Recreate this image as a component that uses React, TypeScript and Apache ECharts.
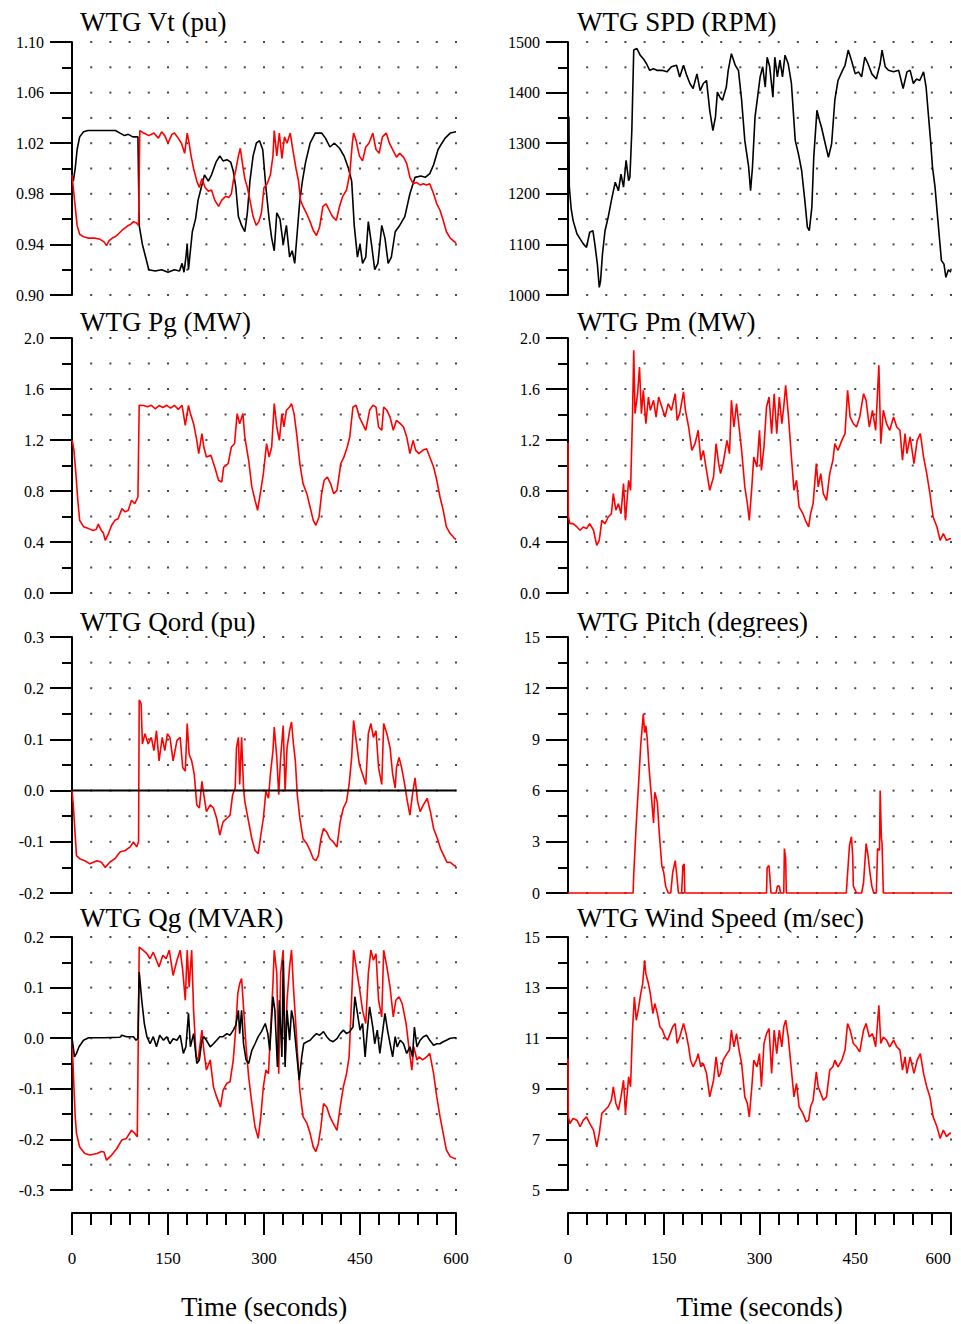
import React, { useEffect, useRef } from "react";
import * as echarts from "echarts";

// ---- recorded traces: [time (s), value] ----
const vtBlack: number[][] = [
  [0, 0.995], [2, 0.99], [5, 1.0], [8, 1.015], [12, 1.025], [18, 1.029], [25, 1.03], [40, 1.03], [55, 1.03], [68, 1.03],
  [75, 1.028], [82, 1.026], [88, 1.027], [95, 1.025], [103, 1.025], [105, 0.955], [110, 0.94], [115, 0.93], [120, 0.92],
  [130, 0.919], [140, 0.92], [150, 0.918], [160, 0.92], [168, 0.919], [172, 0.925], [175, 0.918], [178, 0.93], [180, 0.94],
  [182, 0.92], [185, 0.935], [188, 0.95], [193, 0.96], [197, 0.975], [202, 0.985], [207, 0.995], [213, 0.99], [218, 0.995],
  [225, 1.005], [231, 1.01], [236, 1.006], [242, 1.007], [248, 1.005], [252, 0.998], [256, 0.985], [260, 0.962], [265, 0.955],
  [270, 0.95], [274, 0.965], [278, 0.99], [283, 1.01], [288, 1.02], [293, 1.022], [298, 1.015], [303, 0.985], [308, 0.96],
  [312, 0.945], [316, 0.935], [320, 0.965], [325, 0.96], [330, 0.94], [335, 0.955], [340, 0.93], [344, 0.935], [348, 0.925],
  [352, 0.95], [356, 0.975], [360, 0.99], [365, 1.005], [372, 1.02], [380, 1.028], [390, 1.028], [396, 1.024], [403, 1.017],
  [410, 1.02], [418, 1.016], [425, 1.01], [432, 1.0], [437, 0.99], [441, 0.955], [446, 0.93], [450, 0.94], [454, 0.925],
  [459, 0.93], [463, 0.958], [468, 0.94], [473, 0.92], [478, 0.925], [484, 0.955], [489, 0.945], [494, 0.925], [499, 0.93],
  [505, 0.95], [512, 0.955], [520, 0.962], [528, 0.98], [536, 0.993], [545, 0.994], [552, 0.993], [559, 0.996], [565, 1.003],
  [572, 1.015], [578, 1.02], [583, 1.024], [591, 1.028], [600, 1.029],
];

const vtRed: number[][] = [
  [0, 0.995], [2, 0.985], [5, 0.97], [8, 0.955], [12, 0.948], [18, 0.946], [25, 0.945], [35, 0.945], [44, 0.944], [50, 0.942],
  [54, 0.939], [58, 0.943], [63, 0.945], [67, 0.946], [72, 0.948], [78, 0.951], [83, 0.953], [88, 0.955], [92, 0.956],
  [96, 0.958], [101, 0.957], [104, 0.955], [106, 1.03], [112, 1.028], [120, 1.026], [128, 1.028], [135, 1.024], [140, 1.029],
  [145, 1.026], [150, 1.02], [156, 1.027], [160, 1.028], [166, 1.024], [171, 1.02], [176, 1.012], [180, 1.028], [183, 1.02],
  [186, 1.01], [190, 1.0], [195, 0.99], [199, 0.985], [203, 0.992], [208, 0.985], [213, 0.982], [218, 0.983], [223, 0.975],
  [229, 0.97], [234, 0.975], [240, 0.978], [245, 0.977], [249, 0.98], [252, 0.99], [256, 0.999], [260, 1.01], [263, 1.016],
  [266, 1.005], [270, 0.992], [274, 0.985], [278, 0.975], [283, 0.962], [288, 0.955], [292, 0.958], [296, 0.965], [300, 0.985],
  [305, 0.988], [310, 0.995], [314, 1.01], [316, 1.03], [320, 1.01], [324, 1.028], [328, 1.008], [332, 1.025], [336, 1.02],
  [341, 1.028], [345, 1.015], [350, 1.0], [354, 0.99], [357, 0.975], [361, 0.97], [366, 0.965], [372, 0.958], [377, 0.951],
  [382, 0.947], [387, 0.954], [392, 0.97], [397, 0.972], [402, 0.967], [407, 0.962], [413, 0.959], [418, 0.97], [423, 0.978],
  [429, 0.983], [434, 0.996], [438, 1.02], [440, 1.028], [444, 1.022], [449, 1.01], [454, 1.006], [459, 1.017], [464, 1.02],
  [470, 1.028], [475, 1.015], [480, 1.012], [485, 1.025], [491, 1.028], [496, 1.02], [502, 1.014], [507, 1.009], [512, 1.012],
  [518, 1.009], [523, 1.004], [528, 0.993], [533, 0.988], [538, 0.989], [544, 0.987], [549, 0.988], [554, 0.987], [559, 0.988],
  [565, 0.98], [570, 0.972], [575, 0.967], [580, 0.959], [585, 0.95], [591, 0.945], [598, 0.942], [600, 0.941],
];

const spd: number[][] = [
  [0, 1355], [1.5, 1350], [2, 1215], [5, 1170], [8, 1147], [14, 1121], [19, 1111], [24, 1101], [29, 1094], [34, 1124],
  [39, 1127], [42, 1101], [46, 1061], [49, 1015], [51, 1028], [54, 1081], [58, 1127], [63, 1154], [68, 1187], [74, 1223],
  [79, 1206], [83, 1239], [87, 1213], [91, 1266], [95, 1226], [97, 1233], [100, 1325], [103, 1484], [108, 1487], [113, 1474],
  [118, 1467], [123, 1457], [128, 1444], [134, 1447], [139, 1444], [147, 1444], [155, 1441], [162, 1451], [170, 1454],
  [175, 1431], [181, 1454], [186, 1434], [191, 1418], [196, 1408], [202, 1437], [207, 1404], [212, 1418], [217, 1424],
  [222, 1365], [227, 1325], [231, 1352], [234, 1401], [238, 1391], [242, 1385], [248, 1411], [251, 1444], [256, 1477],
  [262, 1454], [267, 1444], [272, 1385], [277, 1305], [283, 1253], [286, 1206], [289, 1253], [293, 1352], [297, 1391],
  [301, 1431], [305, 1451], [309, 1411], [312, 1470], [316, 1451], [321, 1391], [324, 1470], [328, 1431], [332, 1464],
  [336, 1431], [340, 1474], [345, 1457], [350, 1418], [356, 1305], [361, 1279], [366, 1246], [371, 1187], [375, 1134],
  [378, 1127], [382, 1173], [385, 1272], [390, 1365], [394, 1345], [397, 1332], [403, 1299], [408, 1272], [413, 1299],
  [418, 1385], [423, 1424], [429, 1441], [434, 1454], [439, 1484], [444, 1464], [450, 1437], [455, 1441], [460, 1431],
  [465, 1470], [470, 1457], [476, 1437], [483, 1427], [489, 1457], [492, 1484], [497, 1451], [502, 1444], [510, 1441],
  [518, 1444], [525, 1408], [531, 1441], [536, 1444], [541, 1418], [546, 1427], [551, 1424], [557, 1441], [561, 1411],
  [564, 1365], [568, 1305], [571, 1253], [575, 1213], [579, 1154], [582, 1111], [585, 1068], [589, 1061], [592, 1035],
  [596, 1050], [600, 1045],
];

const pg: number[][] = [
  [0, 1.2], [1, 1.18], [3, 1.12], [6, 0.94], [9, 0.73], [12, 0.57], [18, 0.52], [26, 0.505], [33, 0.49], [38, 0.5],
  [41, 0.54], [46, 0.49], [49, 0.47], [52, 0.413], [57, 0.466], [62, 0.531], [67, 0.57], [72, 0.583], [78, 0.662],
  [83, 0.636], [88, 0.649], [93, 0.727], [98, 0.7], [103, 0.753], [105, 1.472], [112, 1.47], [118, 1.46], [124, 1.472],
  [130, 1.445], [136, 1.47], [142, 1.455], [148, 1.472], [154, 1.45], [160, 1.472], [166, 1.44], [172, 1.472], [177, 1.315],
  [182, 1.472], [185, 1.407], [190, 1.328], [195, 1.197], [198, 1.093], [203, 1.25], [206, 1.145], [210, 1.067], [217, 1.08],
  [223, 0.988], [229, 0.884], [234, 0.871], [237, 0.988], [244, 1.015], [249, 1.145], [254, 1.171], [258, 1.407], [262, 1.328],
  [267, 1.407], [270, 1.224], [276, 1.041], [281, 0.832], [286, 0.727], [290, 0.649], [295, 0.805], [299, 0.936], [304, 1.171],
  [308, 1.067], [312, 1.145], [316, 1.485], [320, 1.302], [324, 1.197], [328, 1.407], [331, 1.302], [335, 1.433], [340, 1.459],
  [343, 1.485], [347, 1.407], [351, 1.25], [356, 1.015], [361, 0.858], [367, 0.779], [372, 0.675], [377, 0.57], [381, 0.531],
  [386, 0.596], [390, 0.779], [394, 0.884], [399, 0.91], [404, 0.858], [409, 0.779], [414, 0.805], [420, 1.015], [425, 1.067],
  [430, 1.145], [434, 1.224], [439, 1.459], [444, 1.472], [449, 1.38], [454, 1.328], [459, 1.276], [465, 1.433], [470, 1.472],
  [475, 1.459], [479, 1.302], [484, 1.276], [487, 1.459], [492, 1.433], [497, 1.38], [502, 1.276], [507, 1.354], [513, 1.328],
  [518, 1.302], [523, 1.224], [528, 1.093], [533, 1.197], [537, 1.119], [542, 1.093], [548, 1.119], [554, 1.132], [559, 1.067],
  [565, 0.988], [570, 0.884], [575, 0.753], [580, 0.649], [585, 0.518], [591, 0.466], [598, 0.426], [600, 0.42],
];

const pm: number[][] = [
  [0, 1.18], [0.5, 0.6], [3, 0.544], [8, 0.544], [14, 0.518], [19, 0.492], [24, 0.518], [29, 0.505], [34, 0.544], [40, 0.492],
  [45, 0.374], [49, 0.413], [53, 0.57], [58, 0.544], [63, 0.596], [68, 0.622], [71, 0.779], [75, 0.649], [79, 0.701],
  [83, 0.622], [87, 0.858], [90, 0.57], [95, 0.884], [98, 0.805], [101, 1.38], [103, 1.903], [105, 1.407], [109, 1.563],
  [112, 1.773], [115, 1.407], [118, 1.59], [122, 1.328], [126, 1.537], [129, 1.433], [134, 1.511], [138, 1.38], [142, 1.537],
  [147, 1.459], [152, 1.38], [157, 1.485], [162, 1.433], [168, 1.563], [171, 1.354], [175, 1.407], [181, 1.577], [184, 1.433],
  [189, 1.302], [194, 1.119], [199, 1.171], [204, 1.276], [208, 1.041], [212, 1.119], [217, 0.962], [222, 0.805], [228, 0.91],
  [232, 1.171], [236, 1.015], [239, 0.936], [243, 1.015], [249, 1.197], [253, 1.093], [256, 1.511], [260, 1.302], [264, 1.485],
  [268, 1.302], [272, 1.119], [277, 0.832], [281, 0.701], [284, 0.57], [288, 0.832], [291, 1.067], [296, 0.988], [300, 1.276],
  [303, 0.962], [307, 1.145], [311, 1.459], [315, 1.537], [319, 1.25], [323, 1.563], [327, 1.25], [331, 1.537], [335, 1.328],
  [338, 1.459], [341, 1.629], [345, 1.407], [350, 1.067], [354, 0.805], [358, 0.884], [362, 0.675], [368, 0.622], [373, 0.557],
  [377, 0.518], [380, 0.622], [384, 0.701], [389, 1.015], [392, 0.832], [396, 0.936], [400, 0.779], [405, 0.727], [410, 0.936],
  [415, 1.041], [418, 1.171], [423, 1.119], [429, 1.197], [434, 1.25], [438, 1.59], [442, 1.38], [447, 1.328], [452, 1.302],
  [457, 1.38], [463, 1.563], [467, 1.511], [472, 1.302], [477, 1.433], [482, 1.276], [487, 1.786], [490, 1.171], [494, 1.433],
  [499, 1.328], [504, 1.276], [510, 1.38], [515, 1.302], [520, 1.276], [524, 1.041], [528, 1.25], [531, 1.093], [536, 1.224],
  [542, 1.015], [547, 1.197], [552, 1.25], [557, 1.067], [562, 0.936], [567, 0.779], [572, 0.596], [578, 0.518], [583, 0.413],
  [588, 0.466], [593, 0.413], [598, 0.426], [600, 0.426],
];

const qord: number[][] = [
  [0, 0], [1, 0], [2, -0.028], [5, -0.087], [7, -0.127], [12, -0.133], [20, -0.137], [28, -0.143], [39, -0.137], [46, -0.14],
  [52, -0.15], [59, -0.14], [67, -0.133], [75, -0.12], [83, -0.117], [91, -0.11], [96, -0.1], [101, -0.11], [104, -0.1],
  [105, 0.177], [108, 0.17], [110, 0.091], [114, 0.111], [119, 0.091], [124, 0.104], [128, 0.078], [132, 0.117], [136, 0.058],
  [141, 0.104], [145, 0.078], [149, 0.111], [153, 0.104], [158, 0.058], [164, 0.098], [169, 0.104], [173, 0.045], [177, 0.038],
  [180, 0.131], [183, 0.071], [187, 0.058], [191, 0.032], [195, -0.028], [199, -0.034], [203, 0.018], [206, -0.008],
  [210, -0.041], [216, -0.028], [221, -0.034], [226, -0.054], [231, -0.087], [236, -0.061], [242, -0.054], [247, -0.048],
  [251, -0.008], [255, 0.005], [257, 0.084], [260, 0.104], [262, 0.012], [265, 0.104], [268, 0.005], [270, -0.021],
  [276, -0.061], [281, -0.094], [286, -0.117], [291, -0.123], [295, -0.087], [299, -0.054], [303, -0.001], [307, -0.015],
  [310, 0.032], [314, 0.078], [316, 0.124], [320, 0.065], [323, -0.008], [326, 0.065], [330, 0.127], [333, -0.001],
  [336, 0.084], [340, 0.117], [343, 0.134], [346, 0.091], [349, 0.058], [352, -0.008], [356, -0.054], [361, -0.094],
  [367, -0.104], [372, -0.117], [377, -0.133], [381, -0.137], [385, -0.127], [389, -0.094], [393, -0.074], [398, -0.081],
  [403, -0.094], [408, -0.1], [414, -0.11], [419, -0.061], [424, -0.034], [429, -0.021], [433, 0.012], [437, 0.065],
  [440, 0.137], [444, 0.098], [449, 0.051], [454, 0.032], [459, 0.012], [463, 0.111], [467, 0.131], [471, 0.104], [475, 0.117],
  [479, 0.045], [484, 0.012], [487, 0.131], [492, 0.111], [497, 0.084], [501, 0.032], [505, 0.005], [507, 0.045], [511, 0.065],
  [515, 0.045], [519, 0.018], [524, -0.021], [528, -0.048], [532, -0.008], [536, 0.025], [540, -0.021], [544, -0.041],
  [549, -0.028], [555, -0.015], [560, -0.041], [565, -0.074], [571, -0.094], [576, -0.114], [581, -0.127], [586, -0.14],
  [591, -0.14], [598, -0.147], [600, -0.147],
];

const qordZero: number[][] = [[0, 0], [600, 0]];

const pitch: number[][] = [
  [0, 0], [102, 0], [103, 1.1], [107, 4.1], [110, 6.0], [114, 8.7], [118, 10.5], [120, 9.4], [122, 9.8], [124, 9.1],
  [127, 7.3], [131, 5.5], [134, 4.1], [136, 5.9], [140, 5.3], [143, 3.5], [147, 1.6], [150, 1.2], [153, 0.4], [157, 0],
  [161, 0], [164, 1.2], [168, 1.9], [170, 1.2], [173, 0], [178, 0], [180, 1.6], [182, 1.7], [183, 0], [311, 0], [312, 1.5],
  [315, 1.6], [318, 0], [326, 0], [328, 0.4], [331, 0.4], [333, 0], [338, 0], [339, 2.6], [341, 2.0], [342, 0], [436, 0],
  [437, 0.6], [441, 2.8], [444, 3.3], [446, 2.2], [447, 0.4], [452, 0], [460, 0], [463, 0.6], [467, 2.9], [470, 2.2],
  [473, 1.2], [476, 0.4], [479, 0], [483, 0], [485, 2.6], [488, 2.5], [489, 6.0], [491, 3.2], [492, 2.9], [494, 0], [600, 0],
];

const qgRed: number[][] = [
  [0, 0], [1, 0], [3, -0.096], [5, -0.155], [7, -0.188], [12, -0.215], [20, -0.228], [28, -0.231], [39, -0.228], [46, -0.224],
  [50, -0.225], [54, -0.241], [62, -0.231], [70, -0.218], [78, -0.201], [85, -0.198], [93, -0.182], [98, -0.188], [102, -0.195],
  [105, 0.18], [111, 0.174], [117, 0.167], [122, 0.157], [127, 0.17], [132, 0.154], [136, 0.141], [142, 0.164], [147, 0.157],
  [152, 0.174], [158, 0.124], [164, 0.154], [169, 0.174], [173, 0.134], [177, 0.075], [180, 0.174], [183, 0.101], [187, 0.174],
  [190, 0.055], [194, -0.037], [197, -0.043], [203, 0.016], [206, -0.024], [210, -0.063], [216, -0.043], [221, -0.096],
  [226, -0.116], [232, -0.136], [236, -0.103], [242, -0.089], [247, -0.086], [252, -0.043], [256, 0.022], [259, 0.088],
  [262, 0.108], [265, 0.118], [268, 0.062], [272, -0.017], [276, -0.076], [281, -0.129], [286, -0.175], [291, -0.198],
  [295, -0.155], [299, -0.096], [303, -0.063], [307, -0.07], [310, 0.009], [314, 0.108], [316, 0.174], [320, 0.128],
  [323, -0.07], [326, 0.128], [330, 0.174], [333, -0.043], [336, 0.075], [340, 0.141], [343, 0.174], [346, 0.101],
  [349, 0.042], [352, -0.024], [356, -0.103], [361, -0.155], [367, -0.168], [372, -0.188], [377, -0.215], [381, -0.224],
  [385, -0.208], [389, -0.175], [393, -0.129], [398, -0.136], [403, -0.155], [408, -0.168], [414, -0.182], [419, -0.136],
  [424, -0.096], [429, -0.07], [433, -0.037], [437, 0.082], [440, 0.174], [444, 0.141], [449, 0.101], [454, 0.055],
  [459, 0.029], [463, 0.128], [467, 0.174], [471, 0.154], [475, 0.167], [479, 0.075], [484, 0.042], [487, 0.174],
  [492, 0.141], [497, 0.101], [502, 0.042], [506, 0.075], [511, 0.082], [516, 0.068], [522, 0.029], [527, -0.024],
  [531, -0.063], [534, -0.017], [539, -0.043], [542, -0.037], [548, -0.043], [554, -0.037], [559, -0.03], [565, -0.07],
  [570, -0.116], [575, -0.155], [580, -0.188], [585, -0.221], [591, -0.234], [598, -0.238], [600, -0.238],
];

const qgBlack: number[][] = [
  [0, 0], [1, 0], [4, -0.037], [7, -0.03], [11, -0.017], [18, -0.004], [26, 0.001], [50, 0.001], [75, 0.002], [78, 0.006],
  [85, 0.003], [96, 0.003], [100, -0.004], [103, 0], [105, 0.131], [109, 0.075], [113, 0.029], [117, 0.003], [122, -0.011],
  [127, 0.003], [132, -0.017], [137, 0.006], [143, -0.004], [148, 0.003], [153, -0.011], [158, -0.001], [164, -0.004],
  [169, 0.006], [174, -0.03], [178, -0.017], [182, 0.049], [185, -0.017], [190, 0.009], [195, -0.05], [199, -0.043],
  [203, -0.004], [206, 0.003], [210, -0.004], [216, -0.017], [221, -0.011], [226, -0.004], [231, 0.003], [236, 0.003],
  [242, 0.009], [247, 0.006], [252, 0.016], [256, 0.026], [260, 0.055], [262, 0.009], [265, 0.055], [268, -0.011],
  [272, -0.043], [276, -0.05], [281, -0.024], [286, -0.011], [291, 0.003], [296, 0.013], [302, 0.029], [306, 0.009],
  [309, -0.024], [314, 0.082], [317, 0.055], [321, -0.057], [324, 0.075], [328, -0.037], [330, 0.154], [333, -0.057],
  [336, 0.055], [340, -0.004], [343, 0.055], [346, 0.036], [349, -0.004], [352, -0.043], [355, -0.083], [359, -0.037],
  [362, -0.011], [367, -0.007], [372, -0.004], [377, 0.003], [382, 0.009], [387, 0.006], [393, 0.013], [398, 0.003],
  [403, -0.004], [408, -0.007], [414, -0.001], [419, 0.009], [424, 0.016], [429, 0.009], [434, 0.013], [439, 0.022],
  [442, 0.082], [446, 0.049], [450, 0.016], [454, 0.029], [458, -0.037], [461, 0.009], [465, 0.062], [470, 0.022],
  [473, -0.011], [477, 0.016], [481, -0.03], [485, 0.009], [489, 0.049], [493, 0.016], [497, -0.011], [501, -0.037],
  [505, 0.003], [508, -0.017], [513, -0.004], [518, -0.011], [523, -0.03], [528, -0.017], [532, -0.037], [535, 0.022],
  [539, -0.017], [544, -0.004], [549, 0.003], [554, 0.006], [559, -0.004], [565, -0.014], [570, -0.011], [575, -0.011],
  [580, -0.007], [585, -0.004], [591, 0], [598, 0.001], [600, 0.001],
];

const wind: number[][] = [
  [0, 10.2], [0.5, 7.89], [3, 7.63], [8, 7.83], [14, 7.76], [19, 7.5], [24, 7.76], [29, 7.89], [34, 7.63], [40, 7.37],
  [45, 6.71], [49, 7.24], [53, 8.03], [58, 8.16], [63, 8.29], [68, 8.55], [71, 9.08], [75, 8.42], [79, 8.16], [83, 8.68],
  [87, 9.34], [90, 8.03], [95, 9.47], [98, 9.08], [101, 11.32], [104, 12.63], [107, 11.71], [110, 12.11], [114, 12.76],
  [117, 13.16], [120, 14.08], [122, 13.55], [126, 13.16], [129, 12.76], [133, 11.97], [136, 12.37], [140, 11.97], [144, 11.45],
  [148, 11.32], [152, 11.05], [156, 10.92], [160, 11.18], [164, 11.45], [168, 11.58], [171, 10.79], [175, 11.05], [181, 11.58],
  [185, 11.18], [189, 10.66], [192, 10.13], [196, 9.87], [201, 10.13], [204, 10.39], [208, 9.87], [212, 10.0], [217, 9.61],
  [222, 8.68], [228, 9.34], [232, 10.26], [236, 9.47], [239, 9.61], [243, 10.13], [249, 10.39], [253, 10.53], [256, 11.32],
  [260, 10.66], [264, 11.18], [268, 10.53], [272, 10.0], [277, 8.68], [281, 8.42], [284, 7.89], [288, 9.08], [291, 10.13],
  [296, 9.87], [300, 10.39], [303, 9.08], [307, 10.79], [311, 11.18], [315, 11.38], [319, 9.61], [323, 11.32], [327, 10.39],
  [331, 11.32], [335, 10.66], [338, 11.45], [341, 11.71], [345, 11.05], [350, 9.74], [354, 8.68], [358, 9.21], [362, 8.29],
  [368, 8.03], [373, 7.7], [377, 7.76], [380, 8.29], [384, 8.55], [389, 9.67], [392, 9.08], [396, 8.82], [400, 8.55],
  [405, 8.68], [410, 9.74], [415, 9.87], [418, 10.13], [423, 9.87], [429, 10.13], [434, 10.53], [438, 11.58], [442, 11.32],
  [447, 10.79], [452, 10.66], [457, 10.46], [463, 11.32], [467, 11.58], [472, 11.05], [477, 11.18], [482, 10.66], [487, 12.3],
  [490, 10.79], [494, 11.05], [499, 10.92], [504, 10.66], [510, 10.92], [515, 10.66], [520, 10.53], [524, 9.74], [528, 10.26],
  [531, 9.61], [536, 10.26], [542, 9.61], [547, 10.13], [552, 10.39], [557, 9.61], [562, 9.08], [567, 8.68], [572, 7.89],
  [578, 7.5], [583, 7.04], [588, 7.37], [593, 7.11], [598, 7.24], [600, 7.24],
];

const timeTicks = [0, 150, 300, 450, 600];
const timeMinorStep = 30;

// ---- page layout ----
const PAGE_W = 961;
const PAGE_H = 1324;
const COL_LEFT = [72, 568];
const COL_WIDTH = [384, 383];
const ROW_TOP = [42, 338, 637, 937];
const ROW_HEIGHT = [253, 255, 256, 253];
const TITLE_MID = [22, 322, 621.5, 918];
const TITLE_X = [80, 577];

const RED = "#ff0000";
const BLACK = "#000000";
const SERIF = "Liberation Serif";

type Line = { data: number[][]; color: string; width?: number };
type Panel = {
  title: string;
  col: number;
  row: number;
  min: number;
  max: number;
  step: number;
  digits: number;
  lines: Line[];
};

const panels: Panel[] = [
  { title: "WTG Vt (pu)", col: 0, row: 0, min: 0.9, max: 1.1, step: 0.04, digits: 2,
    lines: [{ data: vtBlack, color: BLACK }, { data: vtRed, color: RED }] },
  { title: "WTG SPD (RPM)", col: 1, row: 0, min: 1000, max: 1500, step: 100, digits: 0,
    lines: [{ data: spd, color: BLACK }] },
  { title: "WTG Pg (MW)", col: 0, row: 1, min: 0, max: 2, step: 0.4, digits: 1,
    lines: [{ data: pg, color: RED }] },
  { title: "WTG Pm (MW)", col: 1, row: 1, min: 0, max: 2, step: 0.4, digits: 1,
    lines: [{ data: pm, color: RED }] },
  { title: "WTG Qord (pu)", col: 0, row: 2, min: -0.2, max: 0.3, step: 0.1, digits: 1,
    lines: [{ data: qord, color: RED }, { data: qordZero, color: BLACK, width: 2 }] },
  { title: "WTG Pitch (degrees)", col: 1, row: 2, min: 0, max: 15, step: 3, digits: 0,
    lines: [{ data: pitch, color: RED }] },
  { title: "WTG Qg (MVAR)", col: 0, row: 3, min: -0.3, max: 0.2, step: 0.1, digits: 1,
    lines: [{ data: qgRed, color: RED }, { data: qgBlack, color: BLACK }] },
  { title: "WTG Wind Speed (m/sec)", col: 1, row: 3, min: 5, max: 15, step: 2, digits: 0,
    lines: [{ data: wind, color: RED }] },
];

// dotted background: one dot per time minor tick and per value minor tick
function gridDots(p: Panel): number[][] {
  const dots: number[][] = [];
  const tMax = timeTicks[timeTicks.length - 1];
  const rows = Math.round(((p.max - p.min) / p.step) * 2);
  for (let t = timeMinorStep; t <= tMax; t += timeMinorStep) {
    for (let k = 0; k <= rows; k++) {
      dots.push([t, +(p.min + (k * p.step) / 2).toFixed(4)]);
    }
  }
  return dots;
}

function buildOption() {
  const grid: any[] = [];
  const xAxis: any[] = [];
  const yAxis: any[] = [];
  const series: any[] = [];
  const graphic: any[] = [];

  panels.forEach((p, i) => {
    grid.push({
      left: COL_LEFT[p.col],
      top: ROW_TOP[p.row],
      width: COL_WIDTH[p.col],
      height: ROW_HEIGHT[p.row],
      containLabel: false,
      outerBoundsMode: "none",
    });

    const bottomRow = p.row === 3;
    xAxis.push({
      gridIndex: i,
      type: "value",
      min: timeTicks[0],
      max: timeTicks[timeTicks.length - 1],
      interval: timeTicks[1] - timeTicks[0],
      show: bottomRow,
      position: "bottom",
      offset: 23,
      name: "Time (seconds)",
      nameLocation: "middle",
      nameGap: 80,
      nameTextStyle: { fontFamily: SERIF, fontSize: 27, color: BLACK },
      axisLine: { show: true, onZero: false, lineStyle: { color: BLACK, width: 2 } },
      axisTick: { show: true, length: 22, inside: false, lineStyle: { color: BLACK, width: 2 } },
      minorTick: {
        show: true,
        splitNumber: (timeTicks[1] - timeTicks[0]) / timeMinorStep,
        length: 12,
        lineStyle: { color: BLACK, width: 2 },
      },
      axisLabel: {
        show: true,
        margin: 37,
        fontFamily: SERIF,
        fontSize: 17,
        color: BLACK,
        hideOverlap: false,
        // the right-hand time axis ends at the page edge, so its last label is kept inside
        alignMaxLabel: p.col === 1 ? "right" : "center",
        formatter: (v: number) => String(v),
      },
      splitLine: { show: false },
      minorSplitLine: { show: false },
    });

    yAxis.push({
      gridIndex: i,
      type: "value",
      min: p.min,
      max: p.max,
      interval: p.step,
      position: "left",
      axisLine: { show: true, onZero: false, lineStyle: { color: BLACK, width: 2 } },
      axisTick: { show: true, length: 22, inside: false, lineStyle: { color: BLACK, width: 2 } },
      minorTick: { show: true, splitNumber: 2, length: 10, lineStyle: { color: BLACK, width: 2 } },
      axisLabel: {
        show: true,
        margin: 28,
        fontFamily: SERIF,
        fontSize: 16,
        color: BLACK,
        formatter: (v: number) => v.toFixed(p.digits),
      },
      splitLine: { show: false },
      minorSplitLine: { show: false },
    });

    series.push({
      type: "scatter",
      xAxisIndex: i,
      yAxisIndex: i,
      data: gridDots(p),
      symbol: "rect",
      symbolSize: 2,
      itemStyle: { color: "#1a1a1a" },
      silent: true,
      z: 1,
    });

    p.lines.forEach((ln, k) => {
      series.push({
        type: "line",
        xAxisIndex: i,
        yAxisIndex: i,
        data: ln.data,
        showSymbol: false,
        symbol: "none",
        clip: false,
        silent: true,
        lineStyle: { color: ln.color, width: ln.width ?? 1.6 },
        z: 3 + k,
      });
    });

    graphic.push({
      type: "text",
      x: TITLE_X[p.col],
      y: TITLE_MID[p.row],
      silent: true,
      style: {
        text: p.title,
        fontFamily: SERIF,
        fontSize: 27,
        fill: BLACK,
        align: "left",
        verticalAlign: "middle",
      },
    });
  });

  return {
    animation: false,
    backgroundColor: "#ffffff",
    textStyle: { fontFamily: SERIF },
    grid,
    xAxis,
    yAxis,
    series,
    graphic,
  };
}

export default function App() {
  const ref = useRef<HTMLDivElement | null>(null);

  useEffect(() => {
    document.body.style.margin = "0";
    if (!ref.current) return;
    const chart = echarts.init(ref.current, null, { renderer: "svg", width: PAGE_W, height: PAGE_H });
    chart.setOption(buildOption());
    return () => chart.dispose();
  }, []);

  return (
    <div
      ref={ref}
      style={{ position: "absolute", left: 0, top: 0, width: PAGE_W, height: PAGE_H, background: "#fff" }}
    />
  );
}
